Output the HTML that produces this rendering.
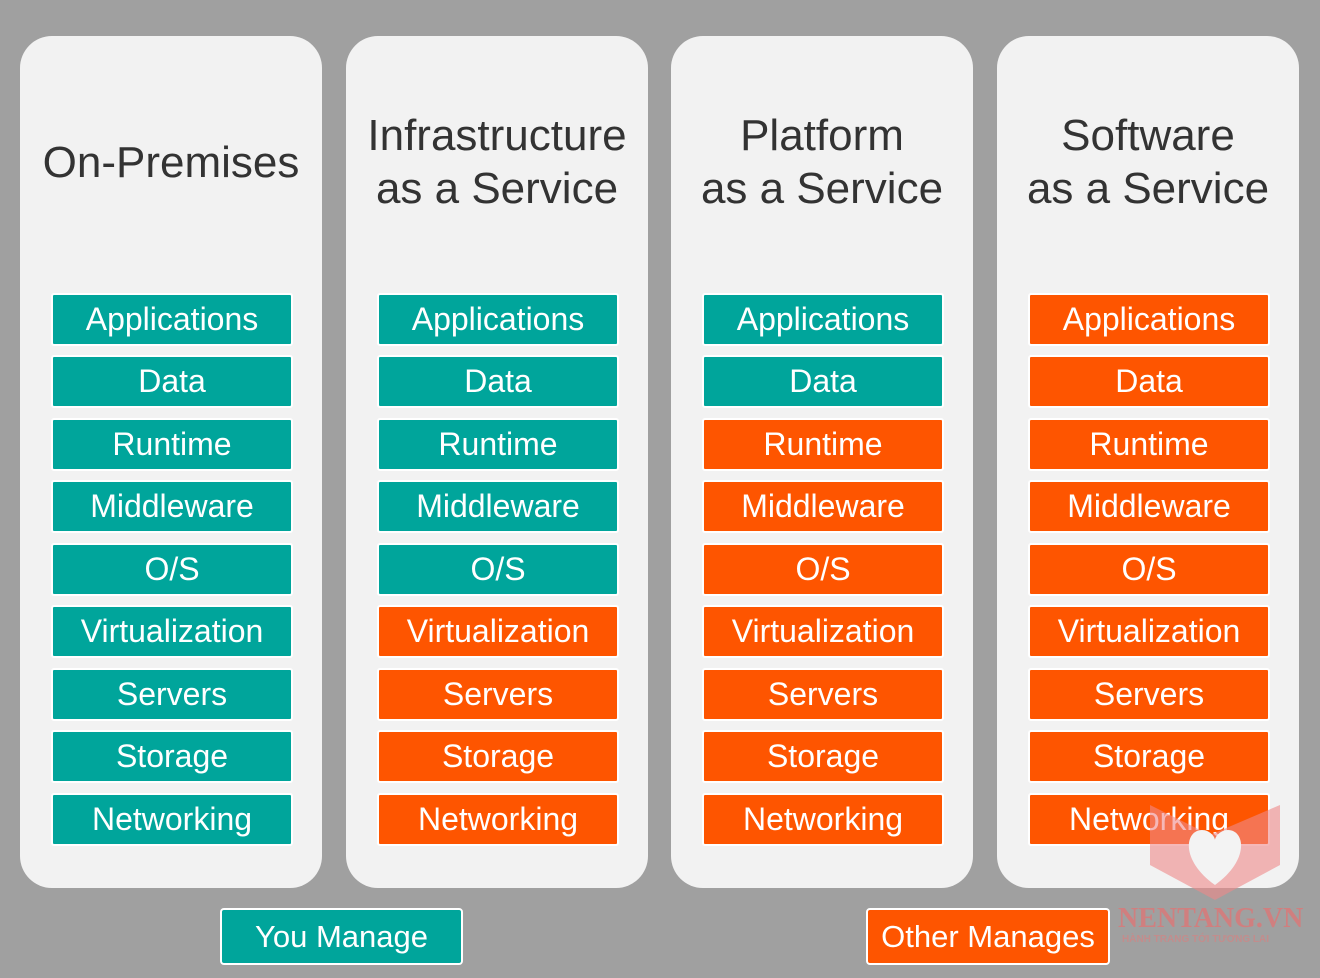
<!DOCTYPE html>
<html><head><style>
body{margin:0;width:1320px;height:978px;background:#a0a0a0;position:relative;overflow:hidden;font-family:"Liberation Sans",sans-serif}
.col{position:absolute;top:36px;width:302px;height:852px;background:#f2f2f2;border-radius:32px}
.t{position:absolute;left:-20px;width:342px;text-align:center;color:#333;font-size:44px;line-height:53px}
.b{position:absolute;left:31px;width:238px;height:49px;border:2px solid #fff;border-radius:3px;color:#fff;font-size:32px;line-height:48px;text-align:center;white-space:nowrap}
.g{background:#00a59b}.o{background:#fe5500}
.leg{position:absolute;top:908px;height:53px;border:2px solid #fff;border-radius:4px;color:#fff;font-size:31px;line-height:54px;text-align:center;white-space:nowrap}
</style></head><body>
<div class="col" style="left:20px"><div class="t" style="top:100px">On-Premises</div>
<div class="b g" style="top:257px">Applications</div><div class="b g" style="top:319px">Data</div><div class="b g" style="top:382px">Runtime</div><div class="b g" style="top:444px">Middleware</div><div class="b g" style="top:507px">O/S</div><div class="b g" style="top:569px">Virtualization</div><div class="b g" style="top:632px">Servers</div><div class="b g" style="top:694px">Storage</div><div class="b g" style="top:757px">Networking</div></div>
<div class="col" style="left:346px"><div class="t" style="top:73px">Infrastructure<br>as a Service</div>
<div class="b g" style="top:257px">Applications</div><div class="b g" style="top:319px">Data</div><div class="b g" style="top:382px">Runtime</div><div class="b g" style="top:444px">Middleware</div><div class="b g" style="top:507px">O/S</div><div class="b o" style="top:569px">Virtualization</div><div class="b o" style="top:632px">Servers</div><div class="b o" style="top:694px">Storage</div><div class="b o" style="top:757px">Networking</div></div>
<div class="col" style="left:671px"><div class="t" style="top:73px">Platform<br>as a Service</div>
<div class="b g" style="top:257px">Applications</div><div class="b g" style="top:319px">Data</div><div class="b o" style="top:382px">Runtime</div><div class="b o" style="top:444px">Middleware</div><div class="b o" style="top:507px">O/S</div><div class="b o" style="top:569px">Virtualization</div><div class="b o" style="top:632px">Servers</div><div class="b o" style="top:694px">Storage</div><div class="b o" style="top:757px">Networking</div></div>
<div class="col" style="left:997px"><div class="t" style="top:73px">Software<br>as a Service</div>
<div class="b o" style="top:257px">Applications</div><div class="b o" style="top:319px">Data</div><div class="b o" style="top:382px">Runtime</div><div class="b o" style="top:444px">Middleware</div><div class="b o" style="top:507px">O/S</div><div class="b o" style="top:569px">Virtualization</div><div class="b o" style="top:632px">Servers</div><div class="b o" style="top:694px">Storage</div><div class="b o" style="top:757px">Networking</div></div>
<div class="leg g" style="left:220px;width:239px">You Manage</div>
<div class="leg o" style="left:866px;width:240px">Other Manages</div>
<svg style="position:absolute;left:1140px;top:795px" width="160" height="110"><path d="M10 10 L70 40 L140 10 L140 70 L75 105 L10 70Z" fill="#e88" opacity="0.6"/><path d="M75 90 C40 65 45 35 62 35 C70 35 75 42 75 45 C75 42 80 35 88 35 C105 35 110 65 75 90Z" fill="#f3f3f3"/></svg>
<div style="position:absolute;left:1118px;top:903px;color:#d77;font-family:'Liberation Serif',serif;font-weight:bold;font-size:28px;opacity:.8">NENTANG.VN</div>
<div style="position:absolute;left:1122px;top:934px;color:#c88;font-size:10px;font-weight:bold;opacity:.8">HÀNH TRANG TỚI TƯƠNG LAI</div>
</body></html>
